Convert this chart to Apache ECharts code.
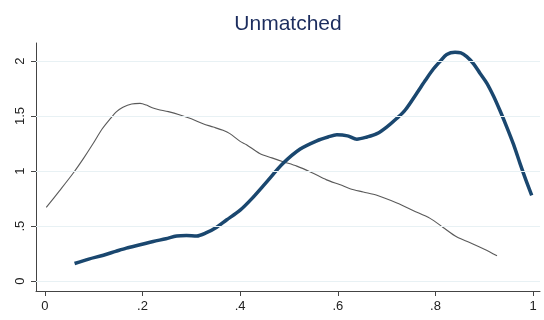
<!DOCTYPE html>
<html>
<head>
<meta charset="utf-8">
<script src="https://cdn.jsdelivr.net/npm/echarts@6/dist/echarts.min.js"></script>
<style>html,body{margin:0;padding:0;background:#fff}#c{width:544px;height:320px}</style>
</head>
<body>
<div id="c"></div>
<script>
var titleText = "Unmatched";
var xTicks = [0, 0.2, 0.4, 0.6, 0.8, 1];
var xTickLabels = ["0", ".2", ".4", ".6", ".8", "1"];
var yTicks = [0, 0.5, 1, 1.5, 2];
var yTickLabels = ["0", ".5", "1", "1.5", "2"];

// thin gray curve
var thinX = [0.003, 0.03, 0.058, 0.08, 0.099, 0.117, 0.133, 0.147, 0.16, 0.178, 0.195, 0.208, 0.22, 0.232, 0.253, 0.277, 0.30, 0.324, 0.345, 0.365, 0.379, 0.40, 0.413, 0.44, 0.465, 0.488, 0.516, 0.545, 0.577, 0.605, 0.625, 0.652, 0.68, 0.721, 0.755, 0.789, 0.815, 0.844, 0.87, 0.9, 0.926];
var thinY = [0.67, 0.82, 0.98, 1.12, 1.25, 1.38, 1.47, 1.54, 1.58, 1.61, 1.615, 1.60, 1.575, 1.56, 1.54, 1.51, 1.475, 1.43, 1.40, 1.37, 1.34, 1.27, 1.24, 1.16, 1.12, 1.085, 1.045, 0.99, 0.92, 0.875, 0.84, 0.81, 0.78, 0.71, 0.64, 0.57, 0.49, 0.40, 0.35, 0.29, 0.23];

// thick blue curve
var thickX = [0.061, 0.09, 0.12, 0.145, 0.167, 0.195, 0.222, 0.248, 0.27, 0.29, 0.311, 0.331, 0.352, 0.372, 0.40, 0.424, 0.454, 0.488, 0.523, 0.557, 0.58, 0.598, 0.62, 0.639, 0.66, 0.68, 0.70, 0.721, 0.738, 0.762, 0.78, 0.796, 0.81, 0.823, 0.84, 0.852, 0.864, 0.878, 0.891, 0.905, 0.919, 0.932, 0.946, 0.96, 0.973, 0.985, 0.997];
var thickY = [0.16, 0.2, 0.235, 0.27, 0.30, 0.33, 0.36, 0.385, 0.41, 0.415, 0.41, 0.44, 0.49, 0.555, 0.645, 0.75, 0.90, 1.07, 1.20, 1.275, 1.31, 1.33, 1.32, 1.29, 1.31, 1.34, 1.40, 1.48, 1.555, 1.71, 1.83, 1.93, 2.00, 2.06, 2.08, 2.075, 2.04, 1.975, 1.89, 1.80, 1.68, 1.55, 1.40, 1.24, 1.07, 0.92, 0.78];

function pairs(xs, ys) { return xs.map(function (x, i) { return [x, ys[i]]; }); }

var chart = echarts.init(document.getElementById('c'), null, {renderer: 'canvas'});
var axisColor = '#444';
var fontFam = 'Liberation Sans, Arial, sans-serif';
chart.setOption({
  animation: false,
  backgroundColor: '#fff',
  graphic: [{
    type: 'text', x: 288, y: 24,
    style: {text: titleText, fill: '#1c2d5e', fontSize: 21, fontFamily: fontFam, align: 'center', verticalAlign: 'middle'}
  }],
  grid: {left: 36, right: 4, top: 43, bottom: 29, containLabel: false},
  xAxis: {
    type: 'value', min: -0.018, max: 1.014,
    axisLine: {show: true, onZero: false, lineStyle: {color: axisColor, width: 1}},
    axisTick: {show: true, length: 5, customValues: xTicks, lineStyle: {color: axisColor}},
    axisLabel: {customValues: xTicks, margin: 9, color: '#222', fontSize: 13, fontFamily: fontFam,
      formatter: function (v) { var i = xTicks.indexOf(v); return i >= 0 ? xTickLabels[i] : ''; }},
    splitLine: {show: false}
  },
  yAxis: {
    type: 'value', min: -0.09, max: 2.164,
    axisLine: {show: true, onZero: false, lineStyle: {color: axisColor, width: 1}},
    axisTick: {show: true, length: 5, customValues: yTicks, lineStyle: {color: axisColor}},
    axisLabel: {customValues: yTicks, rotate: 90, margin: 9, color: '#222', fontSize: 13, fontFamily: fontFam,
      formatter: function (v) { var i = yTicks.indexOf(v); return i >= 0 ? yTickLabels[i] : ''; }},
    splitLine: {show: false}
  },
  series: [
    {
      type: 'line', data: pairs(thinX, thinY), smooth: 0.3, symbol: 'none',
      lineStyle: {color: '#5a5a5a', width: 1.1},
      markLine: {
        silent: true, symbol: 'none', label: {show: false},
        lineStyle: {color: '#e8f1f4', width: 1, type: 'solid'},
        data: yTicks.map(function (v) { return {yAxis: v}; })
      },
      z: 3
    },
    {
      type: 'line', data: pairs(thickX, thickY), smooth: 0.3, symbol: 'none',
      lineStyle: {color: '#1a476f', width: 3.5},
      z: 4
    }
  ]
});
</script>
</body>
</html>
